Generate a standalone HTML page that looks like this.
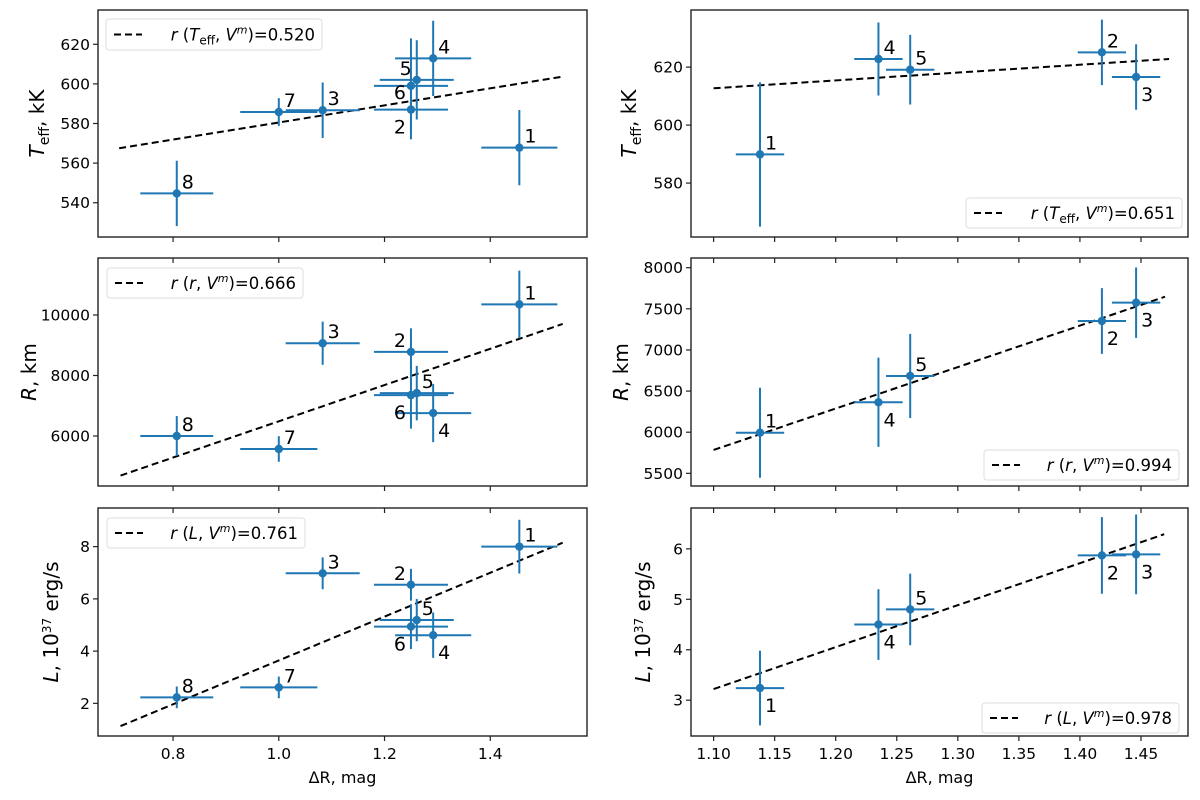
<!DOCTYPE html>
<html><head><meta charset="utf-8"><style>
html,body{margin:0;padding:0;background:#fff;}
svg text{font-family:"DejaVu Sans","Liberation Sans",sans-serif;fill:#000;}
</style></head><body>
<svg id="fig" width="1200" height="795" viewBox="0 0 1200 795" xmlns="http://www.w3.org/2000/svg"></svg>
<script>
// ---- data ----
const leftIds = ["1","2","3","4","5","6","7","8"];
const leftX   = [1.455,1.250,1.083,1.292,1.261,1.250,1.000,0.807];
const leftXErr= [0.072,0.070,0.070,0.072,0.070,0.070,0.073,0.069];
const leftTeff    = [567.8,587.0,586.7,612.9,602.0,599.0,585.8,544.7];
const leftTeffErr = [19,15,14,19,20,24,7,16.5];
const leftR    = [10352,8780,9066,6758,7418,7352,5571,6000];
const leftRErr = [1115,780,714,962,900,1110,423,659];
const leftL    = [8.0,6.54,6.98,4.61,5.19,4.94,2.61,2.23];
const leftLErr = [1.03,0.61,0.61,0.87,0.81,0.86,0.415,0.415];
const leftTeffFit = [[0.698,567.5],[1.540,603.8]];
const leftRFit = [[0.7006,4692],[1.537,9703]];
const leftLFit = [[0.7006,1.13],[1.537,8.15]];

const rightIds = ["1","2","3","4","5"];
const rightX    = [1.138,1.418,1.446,1.235,1.261];
const rightXErr = [0.0198,0.0198,0.0198,0.0198,0.0198];
const rightTeff    = [589.9,625.1,616.6,622.8,619.1];
const rightTeffErr = [24.9,11.3,11.3,12.6,12.0];
const rightR    = [5994,7352,7575,6364,6684];
const rightRErr = [547,399,428,543,511];
const rightL    = [3.24,5.87,5.89,4.50,4.80];
const rightLErr = [0.74,0.76,0.79,0.70,0.71];
const rightTeffFit = [[1.10,612.7],[1.473,622.8]];
const rightRFit = [[1.10,5784],[1.4697,7647]];
const rightLFit = [[1.10,3.22],[1.469,6.29]];

const leftXTicks = [0.8,1.0,1.2,1.4];
const leftXTickLabels = ["0.8","1.0","1.2","1.4"];
const rightXTicks = [1.10,1.15,1.20,1.25,1.30,1.35,1.40,1.45];
const rightXTickLabels = ["1.10","1.15","1.20","1.25","1.30","1.35","1.40","1.45"];
const tlTicks = [540,560,580,600,620];
const mlTicks = [6000,8000,10000];
const blTicks = [2,4,6,8];
const trTicks = [580,600,620];
const mrTicks = [5500,6000,6500,7000,7500,8000];
const brTicks = [3,4,5,6];

const tlPos = ["ur","ll","ur","ur","ul","l","ur","ur"];
const mlPos = ["ur","ul","ur","lr","ur","ll","ur","ur"];
const blPos = ["ur","ul","ur","lr","ur","ll","ur","ur"];
const trPos = ["ur","ur","lr","ur","ur"];
const mrPos = ["ur","lr","lr","lr","ur"];
const brPos = ["lr","lr","lr","lr","ur"];

const NS="http://www.w3.org/2000/svg";
const svg=document.getElementById("fig");
function mk(tag,attrs,parent){const e=document.createElementNS(NS,tag);for(const k in attrs)e.setAttribute(k,attrs[k]);(parent||svg).appendChild(e);return e;}
const C="#1f77b4";

function panel(p){
  const g=mk("g",{});
  
  
  const sx=v=>p.x0+(v-p.xd[0])/(p.xd[1]-p.xd[0])*(p.x1-p.x0);
  const sy=v=>p.y1-(v-p.yd[0])/(p.yd[1]-p.yd[0])*(p.y1-p.y0);
  const fl=mk("line",{x1:sx(p.fit[0][0]),y1:sy(p.fit[0][1]),x2:sx(p.fit[1][0]),y2:sy(p.fit[1][1]),stroke:"#000","stroke-width":2,"stroke-dasharray":"7,4"},g);
  
  
  for(let i=0;i<p.xs.length;i++){
    const cx=sx(p.xs[i]),cy=sy(p.ys[i]);
    const pg=mk("g",{},g);
    
    
    mk("line",{x1:sx(p.xs[i]-p.xe[i]),x2:sx(p.xs[i]+p.xe[i]),y1:cy,y2:cy,stroke:C,"stroke-width":2},pg);
    mk("line",{x1:cx,x2:cx,y1:sy(p.ys[i]-p.ye[i]),y2:sy(p.ys[i]+p.ye[i]),stroke:C,"stroke-width":2},pg);
    mk("circle",{cx:cx,cy:cy,r:4.2,fill:C},pg);
    const pos=p.pos[i];let tx=cx+5,ty=cy-5,an="start";
    if(pos==="ul"){tx=cx-5;an="end";}
    if(pos==="ll"){tx=cx-5;ty=cy+24;an="end";}
    if(pos==="lr"){ty=cy+24;}
    if(pos==="l"){tx=cx-5;ty=cy+13;an="end";}
    const t=mk("text",{x:tx,y:ty,"font-size":19,"text-anchor":an},pg);
    t.textContent=p.ids[i];
    
    
  }
  const fr=mk("rect",{x:p.x0,y:p.y0,width:p.x1-p.x0,height:p.y1-p.y0,fill:"none",stroke:"#222","stroke-width":1.4},g);
  
  
  p.yt.forEach(v=>{const y=sy(v);
    mk("line",{x1:p.x0-5,x2:p.x0,y1:y,y2:y,stroke:"#222","stroke-width":1.2},g);
    const t=mk("text",{x:p.x0-8,y:y+5.5,"font-size":15.5,"text-anchor":"end"},g);t.textContent=String(v);
    
    
  });
  p.xt.forEach((v,j)=>{const x=sx(v);
    mk("line",{x1:x,x2:x,y1:p.y1,y2:p.y1+5,stroke:"#222","stroke-width":1.2},g);
    if(p.topTicks)mk("line",{x1:x,x2:x,y1:p.y0,y2:p.y0+5,stroke:"#222","stroke-width":1.2},g);
    if(p.xlab){const t=mk("text",{x:x,y:p.y1+23,"font-size":15.5,"text-anchor":"middle"},g);t.textContent=p.xtl[j];
      
      }
  });
  if(p.xlab){const t=mk("text",{x:(p.x0+p.x1)/2,y:p.y1+47,"font-size":16,"text-anchor":"middle"},g);t.textContent="ΔR, mag";
    
    }
  const yl=mk("text",{x:0,y:0,"font-size":20,"text-anchor":"middle",transform:`translate(${p.ylx},${(p.y0+p.y1)/2}) rotate(-90)`},g);
  yl.innerHTML=p.ylab;
  
  
  const L=p.leg;
  const lg=mk("g",{},g);
  
  
  mk("rect",{x:L[0],y:L[1],width:L[2],height:L[3],rx:3,fill:"#fff",stroke:"#ddd","stroke-width":1},lg);
  mk("line",{x1:L[0]+8,x2:L[0]+36,y1:L[1]+L[3]/2,y2:L[1]+L[3]/2,stroke:"#000","stroke-width":2,"stroke-dasharray":"7,4"},lg);
  const lt=mk("text",{x:L[0]+L[2]-7,y:L[1]+L[3]/2+6,"font-size":16.5,"text-anchor":"end"},lg);
  lt.innerHTML=p.legText;
  
  
}
const TE='<tspan font-style="italic">T</tspan><tspan font-size="12" dy="4">eff</tspan><tspan dy="-4">, </tspan>';
const VM='<tspan font-style="italic">V</tspan><tspan font-size="11" dy="-7" font-style="italic">m</tspan><tspan dy="7">)=</tspan>';
const LX=[0.658,1.583], RX=[1.0815,1.4885];
const X0=98,X1=587,RX0=691,RX1=1188;
const rows=[[10,237],[258,486],[508,736]];
panel({name:"panel-teff-left",ids:leftIds,xs:leftX,xe:leftXErr,ys:leftTeff,ye:leftTeffErr,fit:leftTeffFit,pos:tlPos,
 x0:X0,x1:X1,y0:rows[0][0],y1:rows[0][1],xd:LX,yd:[522.7,637.3],yt:tlTicks,xt:leftXTicks,xtl:leftXTickLabels,xlab:false,topTicks:false,
 ylx:44,ylab:'<tspan font-style="italic">T</tspan><tspan font-size="14" dy="5">eff</tspan><tspan dy="-5">, kK</tspan>',
 leg:[106,19,216,31],legText:'<tspan font-style="italic">r</tspan> ('+TE+VM+'0.520'});
panel({name:"panel-radius-left",ids:leftIds,xs:leftX,xe:leftXErr,ys:leftR,ye:leftRErr,fit:leftRFit,pos:mlPos,
 x0:X0,x1:X1,y0:rows[1][0],y1:rows[1][1],xd:LX,yd:[4347,11884],yt:mlTicks,xt:leftXTicks,xtl:leftXTickLabels,xlab:false,topTicks:true,
 ylx:36,ylab:'<tspan font-style="italic">R</tspan>, km',
 leg:[107,268,196,30],legText:'<tspan font-style="italic">r</tspan> (<tspan font-style="italic">r</tspan>, '+VM+'0.666'});
panel({name:"panel-luminosity-left",ids:leftIds,xs:leftX,xe:leftXErr,ys:leftL,ye:leftLErr,fit:leftLFit,pos:blPos,
 x0:X0,x1:X1,y0:rows[2][0],y1:rows[2][1],xd:LX,yd:[0.75,9.48],yt:blTicks,xt:leftXTicks,xtl:leftXTickLabels,xlab:true,topTicks:true,
 ylx:58,ylab:'<tspan font-style="italic">L</tspan>, 10<tspan font-size="12" dy="-7">37</tspan><tspan dy="7"> erg/s</tspan>',
 leg:[107,518,198,30],legText:'<tspan font-style="italic">r</tspan> (<tspan font-style="italic">L</tspan>, '+VM+'0.761'});
panel({name:"panel-teff-right",ids:rightIds,xs:rightX,xe:rightXErr,ys:rightTeff,ye:rightTeffErr,fit:rightTeffFit,pos:trPos,
 x0:RX0,x1:RX1,y0:rows[0][0],y1:rows[0][1],xd:RX,yd:[561.4,639.7],yt:trTicks,xt:rightXTicks,xtl:rightXTickLabels,xlab:false,topTicks:false,
 ylx:636,ylab:'<tspan font-style="italic">T</tspan><tspan font-size="14" dy="5">eff</tspan><tspan dy="-5">, kK</tspan>',
 leg:[966,198,216,30],legText:'<tspan font-style="italic">r</tspan> ('+TE+VM+'0.651'});
panel({name:"panel-radius-right",ids:rightIds,xs:rightX,xe:rightXErr,ys:rightR,ye:rightRErr,fit:rightRFit,pos:mrPos,
 x0:RX0,x1:RX1,y0:rows[1][0],y1:rows[1][1],xd:RX,yd:[5346,8118],yt:mrTicks,xt:rightXTicks,xtl:rightXTickLabels,xlab:false,topTicks:true,
 ylx:628,ylab:'<tspan font-style="italic">R</tspan>, km',
 leg:[984,450,195,30],legText:'<tspan font-style="italic">r</tspan> (<tspan font-style="italic">r</tspan>, '+VM+'0.994'});
panel({name:"panel-luminosity-right",ids:rightIds,xs:rightX,xe:rightXErr,ys:rightL,ye:rightLErr,fit:rightLFit,pos:brPos,
 x0:RX0,x1:RX1,y0:rows[2][0],y1:rows[2][1],xd:RX,yd:[2.29,6.81],yt:brTicks,xt:rightXTicks,xtl:rightXTickLabels,xlab:true,topTicks:true,
 ylx:650,ylab:'<tspan font-style="italic">L</tspan>, 10<tspan font-size="12" dy="-7">37</tspan><tspan dy="7"> erg/s</tspan>',
 leg:[982,703,197,30],legText:'<tspan font-style="italic">r</tspan> (<tspan font-style="italic">L</tspan>, '+VM+'0.978'});
</script>
</body></html>
